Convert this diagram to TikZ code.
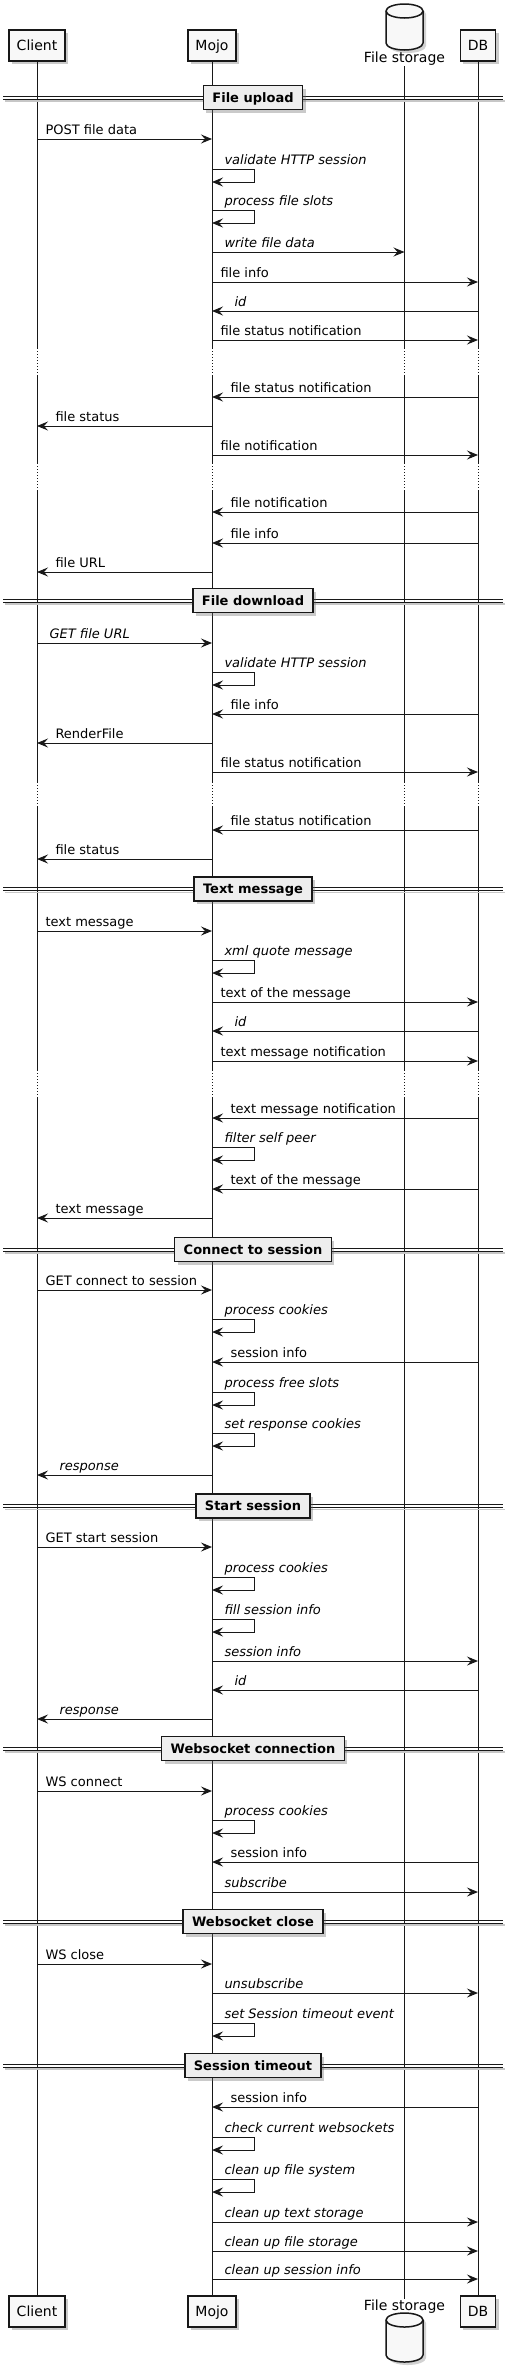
\documentclass[tikz,border=0pt]{standalone}
\usepackage{fontspec}
\setmainfont{DejaVu Sans}
\usetikzlibrary{arrows.meta,shadows}
\definecolor{umlline}{HTML}{181818}
\definecolor{umlfill}{HTML}{F8F8F8}
\definecolor{sepfill}{HTML}{EEEEEE}

% message macros: from, to, y, label style, label
\newcommand{\msgto}[5]{%
  \draw[msg] (#1 |- 0,#3) -- node[lbl,pos=0,xshift=8pt,#4] {#5} (#2 |- 0,#3);}
\newcommand{\msgback}[5]{%
  \draw[msg] (#1 |- 0,#3) -- node[lbl,pos=1,xshift=18pt,#4] {#5} (#2 |- 0,#3);}
\newcommand{\selfmsg}[3]{%
  \draw[msg] (#1 |- 0,#2) -- node[lbl,pos=0,xshift=8pt,it] {#3} ++(42,0) -- ++(0,13) -- ++(-42,0);}
% separator: name, y, title
\newcommand{\divider}[3]{%
  \draw[black!22, line width=1.5pt] (5,#2+3.5) -- (505,#2+3.5);
  \draw[sepline] (3,#2-1.5) -- (503,#2-1.5) (3,#2+1.5) -- (503,#2+1.5);
  \node[sepbox] (#1) at (253,#2) {#3};}
% database drum: top y, bottom y
\newcommand{\drum}[2]{%
  \fill[black!35, opacity=.5, shift={(3,3)}] (386,#1+7) -- (386,#2-7) arc[start angle=180, end angle=0, x radius=18.5, y radius=7] -- (423,#1+7) arc[start angle=0, end angle=-180, x radius=18.5, y radius=7] -- cycle;
  \draw[drumline] (386,#1+7) -- (386,#2-7) arc[start angle=180, end angle=0, x radius=18.5, y radius=7] -- (423,#1+7) arc[start angle=0, end angle=-180, x radius=18.5, y radius=7] -- cycle;
  \draw[umlline, line width=1.5pt] (386,#1+7) arc[start angle=180, end angle=0, x radius=18.5, y radius=7];}

\begin{document}
\begin{tikzpicture}[
x=1pt, y=-1pt,
part/.style={
  draw=umlline,
  fill=umlfill,
  line width=1.5pt,
  font=\fontsize{14}{16}\selectfont,
  inner xsep=7.5pt,
  inner ysep=0pt,
  minimum height=31pt,
  text height=10.2pt,
  text depth=0pt,
  drop shadow={shadow xshift=3pt, shadow yshift=-3pt, opacity=.35, fill=black!60}
  },
drumlabel/.style={
  font=\fontsize{14}{16}\selectfont,
  inner sep=1pt,
  anchor=base,
  text height=10.2pt,
  text depth=3pt
  },
drumline/.style={draw=umlline, fill=umlfill, line width=1.5pt},
sepbox/.style={
  draw=umlline,
  fill=sepfill,
  line width=1.5pt,
  font=\fontsize{13}{15}\selectfont\bfseries,
  inner xsep=9pt,
  inner ysep=0pt,
  minimum height=24pt,
  text height=9.5pt,
  text depth=0pt,
  drop shadow={shadow xshift=3pt, shadow yshift=-3pt, opacity=.35, fill=black!60}
  },
sepline/.style={umlline, line width=1pt},
life/.style={umlline, line width=1pt},
delayline/.style={dash pattern=on 1pt off 2pt},
msg/.style={->, umlline, line width=1pt},
lbl/.style={anchor=base west, yshift=5pt, inner sep=0pt, text=black, font=\fontsize{13}{15}\selectfont},
it/.style={xshift=4pt, font=\fontsize{13}{15}\selectfont\itshape},
>={Stealth[length=11pt, width=9pt, inset=4pt]}
]
\useasboundingbox (0,0) rectangle (514,2369);

% participants
\node[part] (client) at (37,45.5) {Client};
\node[part] (mojo) at (212,45.5) {Mojo};
\drum{4}{50}
\node[drumlabel] (store) at (404.5,62) {File storage};
\node[part] (db) at (478,45.5) {DB};

\node[part] (clientB) at (client |- 0,2311.5) {Client};
\node[part] (mojoB) at (mojo |- 0,2311.5) {Mojo};
\node[drumlabel] (storeB) at (404.5,2310) {File storage};
\drum{2313}{2362}
\node[part] (dbB) at (db |- 0,2311.5) {DB};

% lifelines with delays
\foreach \p/\q in {client/clientB, mojo/mojoB, store/storeB, db/dbB}{
  \draw[life] (\p.south) -- (\p |- 0,348) (\p |- 0,376) -- (\p |- 0,463) (\p |- 0,490) -- (\p |- 0,782)
    (\p |- 0,807) -- (\p |- 0,1070) (\p |- 0,1097) -- (\q.north);
  \draw[life, delayline] (\p |- 0,348) -- (\p |- 0,376) (\p |- 0,463) -- (\p |- 0,490)
    (\p |- 0,782) -- (\p |- 0,807) (\p |- 0,1070) -- (\p |- 0,1097);
}

% File upload
\divider{upload}{97.5}{File upload}
\msgto{client}{mojo}{139}{}{POST file data}
\selfmsg{mojo}{169}{validate HTTP session}
\selfmsg{mojo}{210}{process file slots}
\msgto{mojo}{store}{252}{it}{write file data}
\msgto{mojo}{db}{282}{}{file info}
\msgback{db}{mojo}{311}{it}{id}
\msgto{mojo}{db}{340}{}{file status notification}
\msgback{db}{mojo}{397}{}{file status notification}
\msgback{mojo}{client}{426}{}{file status}
\msgto{mojo}{db}{455}{}{file notification}
\msgback{db}{mojo}{512}{}{file notification}
\msgback{db}{mojo}{543}{}{file info}
\msgback{mojo}{client}{572}{}{file URL}

% File download
\divider{download}{600.5}{File download}
\msgto{client}{mojo}{643}{it}{GET file URL}
\selfmsg{mojo}{672}{validate HTTP session}
\msgback{db}{mojo}{714}{}{file info}
\msgback{mojo}{client}{743}{}{RenderFile}
\msgto{mojo}{db}{772}{}{file status notification}
\msgback{db}{mojo}{830}{}{file status notification}
\msgback{mojo}{client}{859}{}{file status}

% Text message
\divider{textmsg}{889}{Text message}
\msgto{client}{mojo}{931}{}{text message}
\selfmsg{mojo}{960}{xml quote message}
\msgto{mojo}{db}{1002}{}{text of the message}
\msgback{db}{mojo}{1031}{it}{id}
\msgto{mojo}{db}{1061}{}{text message notification}
\msgback{db}{mojo}{1118}{}{text message notification}
\selfmsg{mojo}{1147}{filter self peer}
\msgback{db}{mojo}{1189}{}{text of the message}
\msgback{mojo}{client}{1218}{}{text message}

% Connect to session
\divider{connect}{1249.5}{Connect to session}
\msgto{client}{mojo}{1290}{}{GET connect to session}
\selfmsg{mojo}{1319}{process cookies}
\msgback{db}{mojo}{1362}{}{session info}
\selfmsg{mojo}{1392}{process free slots}
\selfmsg{mojo}{1433}{set response cookies}
\msgback{mojo}{client}{1475}{it}{response}

% Start session
\divider{start}{1506}{Start session}
\msgto{client}{mojo}{1547}{}{GET start session}
\selfmsg{mojo}{1577}{process cookies}
\selfmsg{mojo}{1619}{fill session info}
\msgto{mojo}{db}{1661}{it}{session info}
\msgback{db}{mojo}{1690}{it}{id}
\msgback{mojo}{client}{1719}{it}{response}

% Websocket connection
\divider{wsopen}{1748.5}{Websocket connection}
\msgto{client}{mojo}{1791}{}{WS connect}
\selfmsg{mojo}{1820}{process cookies}
\msgback{db}{mojo}{1862}{}{session info}
\msgto{mojo}{db}{1892}{it}{subscribe}

% Websocket close
\divider{wsclose}{1921.5}{Websocket close}
\msgto{client}{mojo}{1964}{}{WS close}
\msgto{mojo}{db}{1993}{it}{unsubscribe}
\selfmsg{mojo}{2023}{set Session timeout event}

% Session timeout
\divider{timeout}{2065.5}{Session timeout}
\msgback{db}{mojo}{2107}{}{session info}
\selfmsg{mojo}{2137}{check current websockets}
\selfmsg{mojo}{2179}{clean up file system}
\msgto{mojo}{db}{2222}{it}{clean up text storage}
\msgto{mojo}{db}{2251}{it}{clean up file storage}
\msgto{mojo}{db}{2279}{it}{clean up session info}
\end{tikzpicture}
\end{document}
